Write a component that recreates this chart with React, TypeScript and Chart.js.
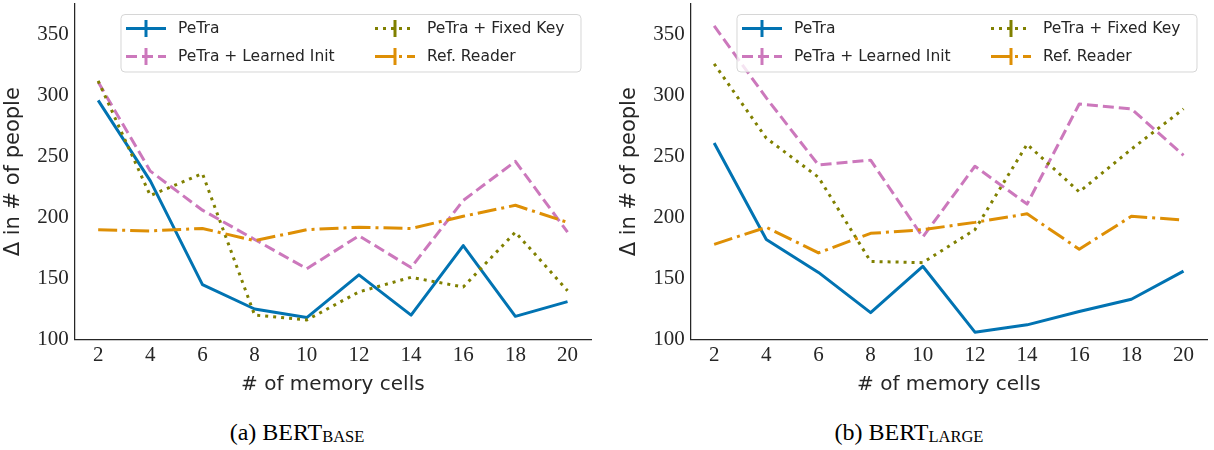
import React, { useEffect, useRef } from 'react';
import { Chart, registerables } from 'chart.js';

Chart.register(...registerables);

// ---------------- data ----------------
const memoryCells = [2, 4, 6, 8, 10, 12, 14, 16, 18, 20];
const yTickValues = [100, 150, 200, 250, 300, 350];
const seriesLabels = ['PeTra', 'PeTra + Learned Init', 'PeTra + Fixed Key', 'Ref. Reader'];

// (a) BERT_BASE
const petraBase = [296, 230, 145, 125, 118, 153, 120, 177, 119, 131];
const learnedInitBase = [311, 238, 206, 182, 158, 185, 159, 214, 246, 188];
const fixedKeyBase = [312, 218, 236, 120, 116, 139, 151, 143, 188, 140];
const refReaderBase = [190, 189, 191, 181, 190, 192, 191, 201, 210, 196];

// (b) BERT_LARGE
const petraLarge = [261, 182, 155, 122, 160, 106, 112, 123, 133, 156];
const learnedInitLarge = [357, 298, 243, 247, 184, 242, 211, 293, 289, 251];
const fixedKeyLarge = [326, 265, 233, 164, 163, 190, 260, 221, 256, 289];
const refReaderLarge = [178, 192, 171, 187, 190, 196, 203, 174, 201, 198];

// ---------------- styles ----------------
const COLORS = ['#0173B2', '#CC78BC', '#808000', '#DE8F05'];
const DASHES: number[][] = [[], [11, 5], [3, 5], [19, 5, 3, 5]];
const LINE_W = 3;
const TEXT = '#262626';
const SANS = '"DejaVu Sans", sans-serif';
const SERIF = '"Liberation Serif", serif';

const CANVAS_W = 600;
const CANVAS_H = 400;

const legendPlugin = {
  id: 'mplLegend',
  afterDatasetsDraw(chart: any) {
    const ctx: CanvasRenderingContext2D = chart.ctx;
    ctx.save();
    const bx = 121, by = 14.5, bw = 460, bh = 57.5, r = 4;
    ctx.beginPath();
    ctx.moveTo(bx + r, by);
    ctx.lineTo(bx + bw - r, by);
    ctx.arcTo(bx + bw, by, bx + bw, by + r, r);
    ctx.lineTo(bx + bw, by + bh - r);
    ctx.arcTo(bx + bw, by + bh, bx + bw - r, by + bh, r);
    ctx.lineTo(bx + r, by + bh);
    ctx.arcTo(bx, by + bh, bx, by + bh - r, r);
    ctx.lineTo(bx, by + r);
    ctx.arcTo(bx, by, bx + r, by, r);
    ctx.closePath();
    ctx.fillStyle = 'rgba(255,255,255,0.8)';
    ctx.fill();
    ctx.strokeStyle = 'rgba(204,204,204,0.8)';
    ctx.lineWidth = 1;
    ctx.stroke();

    const cols = [126, 375];
    const rows = [28.5, 56.5];
    seriesLabels.forEach((label, i) => {
      const hx = cols[Math.floor(i / 2)];
      const hy = rows[i % 2];
      ctx.strokeStyle = COLORS[i];
      ctx.lineWidth = LINE_W;
      ctx.lineCap = 'butt';
      ctx.setLineDash(DASHES[i]);
      ctx.beginPath();
      ctx.moveTo(hx, hy);
      ctx.lineTo(hx + 40, hy);
      ctx.stroke();
      ctx.setLineDash([]);
      ctx.beginPath();
      ctx.moveTo(hx + 20, hy - 8.5);
      ctx.lineTo(hx + 20, hy + 8.5);
      ctx.stroke();
      ctx.fillStyle = TEXT;
      ctx.font = '15.5px ' + SANS;
      ctx.textBaseline = 'middle';
      ctx.textAlign = 'left';
      ctx.fillText(label, hx + 52, hy);
    });
    ctx.restore();
  },
};

function buildConfig(values: number[][]): any {
  const datasets = values.map((vals, i) => ({
    label: seriesLabels[i],
    data: memoryCells.map((c, j) => ({ x: c, y: vals[j] })),
    borderColor: COLORS[i],
    backgroundColor: COLORS[i],
    borderWidth: LINE_W,
    borderDash: DASHES[i],
    borderJoinStyle: 'round',
    pointRadius: 0,
    pointHoverRadius: 0,
    tension: 0,
    fill: false,
    order: 4 - i,
  }));
  return {
    type: 'line',
    data: { datasets },
    options: {
      animation: false,
      responsive: false,
      maintainAspectRatio: false,
      events: [],
      layout: { padding: { left: 0, right: 9, top: 4, bottom: 0 } },
      plugins: {
        legend: { display: false },
        tooltip: { enabled: false },
        title: { display: false },
      },
      scales: {
        x: {
          type: 'linear',
          min: 1.1,
          max: 20.9,
          afterBuildTicks: (scale: any) => {
            scale.ticks = memoryCells.map((v) => ({ value: v }));
          },
          afterFit: (scale: any) => {
            scale.height = 60.5;
            scale.paddingLeft = 0;
            scale.paddingRight = 0;
          },
          grid: { display: false, drawTicks: false },
          border: { display: true, color: TEXT, width: 1.25 },
          ticks: {
            font: { family: SERIF, size: 21 },
            color: TEXT,
            padding: 3,
            maxRotation: 0,
            autoSkip: false,
            callback: (v: any) => String(v),
          },
          title: {
            display: true,
            text: '# of memory cells',
            font: { family: SANS, size: 20 },
            color: TEXT,
            padding: { top: 0, bottom: 3 },
          },
        },
        y: {
          type: 'linear',
          min: 100,
          max: 375,
          afterBuildTicks: (scale: any) => {
            scale.ticks = yTickValues.map((v) => ({ value: v }));
          },
          afterFit: (scale: any) => {
            scale.width = 74.7;
            scale.paddingTop = 0;
            scale.paddingBottom = 0;
          },
          grid: { display: false, drawTicks: false },
          border: { display: true, color: TEXT, width: 1.25 },
          ticks: {
            font: { family: SERIF, size: 21 },
            color: TEXT,
            padding: 6,
            autoSkip: false,
            callback: (v: any) => String(v),
          },
          title: {
            display: true,
            text: 'Δ in # of people',
            font: { family: SANS, size: 21 },
            color: TEXT,
            padding: { top: 1, bottom: 0 },
          },
        },
      },
    },
    plugins: [legendPlugin],
  };
}

function LineChart({ values }: { values: number[][] }) {
  const ref = useRef<HTMLCanvasElement | null>(null);
  useEffect(() => {
    if (!ref.current) return;
    const chart = new Chart(ref.current, buildConfig(values));
    return () => chart.destroy();
  }, [values]);
  return (
    <canvas
      ref={ref}
      width={CANVAS_W}
      height={CANVAS_H}
      style={{ width: CANVAS_W, height: CANVAS_H, display: 'block' }}
    />
  );
}

const baseSeries = [petraBase, learnedInitBase, fixedKeyBase, refReaderBase];
const largeSeries = [petraLarge, learnedInitLarge, fixedKeyLarge, refReaderLarge];

const captionStyle: React.CSSProperties = {
  position: 'absolute',
  top: 420,
  height: 30,
  textAlign: 'center',
  fontFamily: SERIF,
  fontSize: 24,
  lineHeight: '24px',
  color: '#000',
  whiteSpace: 'nowrap',
};
const subStyle: React.CSSProperties = { fontSize: 16.5, position: 'relative', top: 2 };

export default function App() {
  return (
    <div
      style={{
        position: 'fixed',
        left: 0,
        top: 0,
        width: 1214,
        height: 450,
        background: '#fff',
        overflow: 'hidden',
      }}
    >
      <div style={{ position: 'absolute', left: 0, top: 0 }}>
        <LineChart values={baseSeries} />
      </div>
      <div style={{ position: 'absolute', left: 616, top: 0 }}>
        <LineChart values={largeSeries} />
      </div>
      <div style={{ ...captionStyle, left: 0, width: 594 }}>
        (a) BERT<span style={subStyle}>BASE</span>
      </div>
      <div style={{ ...captionStyle, left: 607, width: 604 }}>
        (b) BERT<span style={subStyle}>LARGE</span>
      </div>
    </div>
  );
}
